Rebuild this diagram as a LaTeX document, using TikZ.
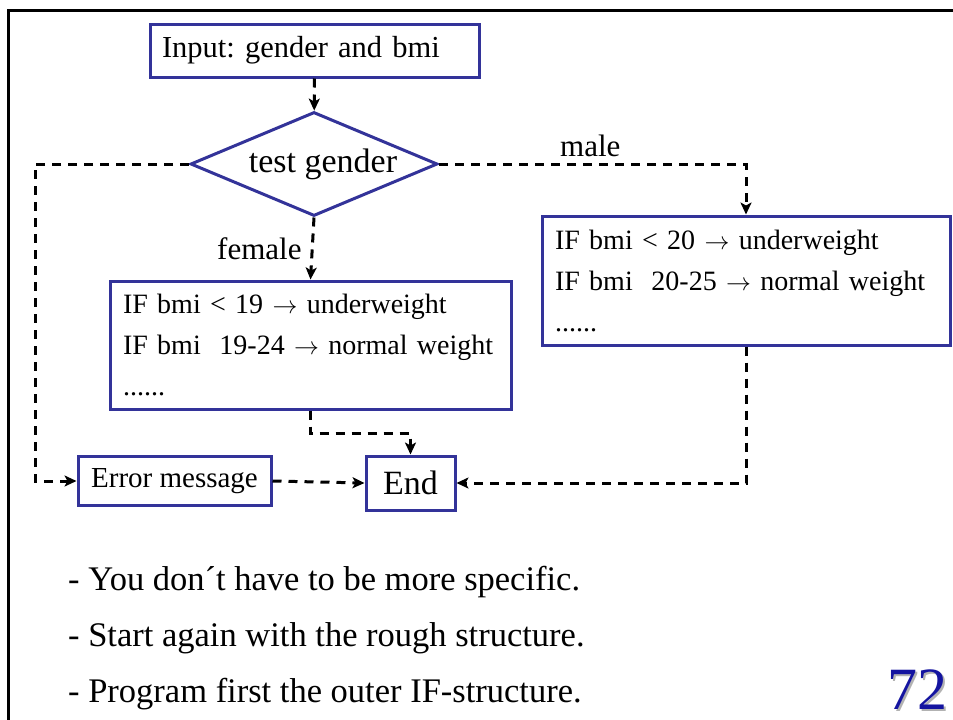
\documentclass[tikz,border=0pt]{standalone}
\usepackage{fontspec}
\setmainfont{Liberation Serif}
\usetikzlibrary{arrows.meta,shapes.geometric,calc,positioning}
\definecolor{boxblue}{RGB}{51,51,153}
\definecolor{pageblue}{RGB}{20,20,160}
\frenchspacing

\begin{document}
\begin{tikzpicture}[x=1pt, y=-1pt,
        box/.style={draw=boxblue, line width=3pt, rectangle, inner sep=0pt},
        rulebox/.style={box, align=left, inner xsep=13pt, font=\fontsize{28}{41}\selectfont},
        flow/.style={->, line width=3pt, dash pattern=on 9pt off 7pt},
        >={Stealth[length=12pt, width=11pt, inset=3pt]},
        lbl/.style={font=\fontsize{31}{36}\selectfont, inner sep=0pt},
        remark/.style={font=\fontsize{34.5}{40}\selectfont, inner sep=0pt, anchor=base west}]
                \useasboundingbox (0, 0) rectangle (953, 720);

                % frame of the slide
                \draw[line width=3pt] (8, 720) -- (8, 10) -- (953, 10);

                % Nodes
                \node[box, align=left, text width=305pt, inner xsep=12pt, minimum height=53pt, font=\fontsize{30.5}{36}\selectfont] at (314.5, 50.5) (input) {Input: gender and bmi};
                \node[box, diamond, aspect=2.375, minimum width=247pt, minimum height=104pt, font=\fontsize{34}{40}\selectfont] at (314, 164) (test) {\hspace{18pt}test gender};
                \node[rulebox, text width=375pt, minimum height=128pt] at (310.5, 345) (female) {IF bmi < 19 $\rightarrow$ underweight\\IF bmi\ \ 19-24 $\rightarrow$ normal weight\\......};
                \node[rulebox, text width=382pt, minimum height=129pt] at (746, 280.5) (male) {IF bmi < 20 $\rightarrow$ underweight\\IF bmi\ \ 20-25 $\rightarrow$ normal weight\\......};
                \node[box, minimum width=193pt, minimum height=49pt, font=\fontsize{29}{34}\selectfont] at (174.5, 481) (error) {Error message};
                \node[box, minimum width=89pt, minimum height=54pt, font=\fontsize{34}{40}\selectfont] at (410.5, 483) (end) {End};

                \node[lbl, anchor=base west] at (217, 259) (femalelbl) {female};
                \node[lbl, anchor=base west] at (560, 156) (malelbl) {male};

                \coordinate (leftturn) at (35, 481);

                % Connectors
                \draw[flow] (input) -- (test);
                \draw[flow] (test.west) -| (leftturn) -- (error.west);
                \draw[flow] (test.east) -| (male.north);
                \draw[flow] (test.south) -- (female.north);
                \draw[flow] (female.south) -- ++(0, 23) -| (end.north);
                \draw[flow] (error.east) -- (end.west);
                \draw[flow] (male.south) |- (end.east);

                % remarks
                \node[remark] at (68, 590) (r1) {- You don´t have to be more specific.};
                \node[remark] at (68, 646) (r2) {- Start again with the rough structure.};
                \node[remark] at (68, 702) (r3) {- Program first the outer IF-structure.};

                \node[font=\fontsize{60}{70}\selectfont, text=black!30, inner sep=0pt, anchor=base] at (919.5, 711) (pgshadow) {72};
                \node[font=\fontsize{60}{70}\selectfont, text=pageblue, inner sep=0pt, anchor=base] at (917.5, 709) (pg) {72};

            \end{tikzpicture}
\end{document}
